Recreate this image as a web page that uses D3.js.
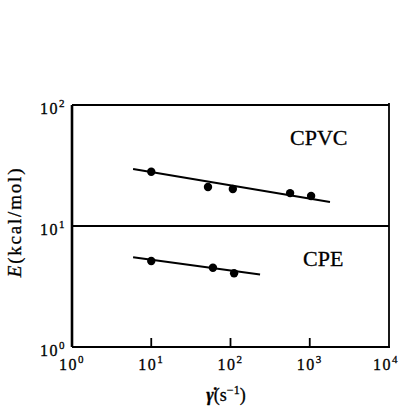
<!DOCTYPE html>
<html><head><meta charset="utf-8">
<script src="https://cdn.jsdelivr.net/npm/d3@7"></script>
<style>body{margin:0;background:#fff}svg{display:block}</style>
</head><body><svg id="c" width="400" height="408"></svg>
<script>
// ---- data ----
const xTicks = [1, 10, 100, 1000, 10000];
const xTickExp = ["0", "1", "2", "3", "4"];
const yTicks = [1, 10, 100];
const yTickExp = ["0", "1", "2"];
const cpvcRate = [10, 52, 107, 565, 1040];
const cpvcE = [28.1, 21.0, 20.2, 18.7, 17.7];
const cpeRate = [10, 60, 111];
const cpeE = [5.14, 4.52, 4.07];
const cpvcFitRate = [5.9, 1800];
const cpvcFitE = [29.6, 15.8];
const cpeFitRate = [5.9, 236];
const cpeFitE = [5.51, 3.97];
const seriesNames = ["CPVC", "CPE"];

// ---- chart ----
const svg = d3.select("#c");
const L = 72, R = 389, T = 105, B = 347;
const x = d3.scaleLog().domain([1, 10000]).range([L, R]);
const y = d3.scaleLog().domain([1, 100]).range([B, T]);
const font = "'Liberation Serif','DejaVu Serif',serif";

// frame
const g = svg.append("g").attr("stroke", "#000").attr("fill", "none");
g.append("line").attr("x1", L).attr("x2", R).attr("y1", y(100)).attr("y2", y(100)).attr("stroke-width", 1.8);
g.append("line").attr("x1", R).attr("x2", R).attr("y1", y(100) - 2).attr("y2", B).attr("stroke-width", 1.8);
g.append("line").attr("x1", L).attr("x2", R + 1).attr("y1", B).attr("y2", B).attr("stroke-width", 2);
g.append("line").attr("x1", L).attr("x2", R).attr("y1", y(10)).attr("y2", y(10)).attr("stroke-width", 1.8);
g.append("line").attr("x1", L).attr("x2", L).attr("y1", T).attr("y2", B).attr("stroke-width", 2.6);

// x inner ticks
g.selectAll(".xt").data(xTicks.slice(1, -1)).join("line")
  .attr("x1", d => x(d)).attr("x2", d => x(d))
  .attr("y1", B).attr("y2", B - 9).attr("stroke-width", 1.8);

// x tick labels
const xl = svg.append("g").attr("font-family", font).attr("fill", "#000")
  .attr("stroke", "#000").attr("stroke-width", 0.3);
xTicks.forEach((d, i) => {
  const t = xl.append("text").attr("x", Math.min(x(d), 386)).attr("y", 370)
    .attr("text-anchor", "middle").attr("font-size", 16).attr("letter-spacing", 1.5);
  t.append("tspan").text("10");
  t.append("tspan").attr("font-size", 11).attr("dy", -7).text(xTickExp[i]);
});

// y tick labels
yTicks.forEach((d, i) => {
  const t = xl.append("text").attr("x", L - 6).attr("y", y(d) + 9)
    .attr("text-anchor", "end").attr("font-size", 16).attr("letter-spacing", 1.5);
  t.append("tspan").text("10");
  t.append("tspan").attr("font-size", 11).attr("dy", -7).text(yTickExp[i]);
});

// fit lines
const line = d3.line().x(d => x(d[0])).y(d => y(d[1]));
svg.append("path").datum(cpvcFitRate.map((r, i) => [r, cpvcFitE[i]]))
  .attr("d", line).attr("stroke", "#000").attr("stroke-width", 2).attr("fill", "none");
svg.append("path").datum(cpeFitRate.map((r, i) => [r, cpeFitE[i]]))
  .attr("d", line).attr("stroke", "#000").attr("stroke-width", 2).attr("fill", "none");

// points
svg.append("g").selectAll("circle").data(cpvcRate.map((r, i) => [r, cpvcE[i]])).join("circle")
  .attr("cx", d => x(d[0])).attr("cy", d => y(d[1])).attr("r", 4.2).attr("fill", "#000");
svg.append("g").selectAll("circle").data(cpeRate.map((r, i) => [r, cpeE[i]])).join("circle")
  .attr("cx", d => x(d[0])).attr("cy", d => y(d[1])).attr("r", 4.2).attr("fill", "#000");

// series labels
xl.append("text").attr("x", 290).attr("y", 145).attr("font-size", 22).text(seriesNames[0]);
xl.append("text").attr("x", 303).attr("y", 266).attr("font-size", 22).text(seriesNames[1]);

// axis titles
const yt = xl.append("text").attr("transform", "translate(21,222) rotate(-90)")
  .attr("text-anchor", "middle").attr("font-size", 19).attr("letter-spacing", 1.8);
yt.append("tspan").attr("font-style", "italic").text("E");
yt.append("tspan").text("(kcal/mol)");

const xt = xl.append("text").attr("x", 226).attr("y", 401)
  .attr("text-anchor", "middle").attr("font-size", 18);
xt.append("tspan").attr("font-style", "italic").attr("font-weight", "bold").text("γ\u0307");
xt.append("tspan").text("(s");
xt.append("tspan").attr("font-size", 12).attr("dy", -7).text("−1");
xt.append("tspan").attr("dy", 7).text(")");
</script></body></html>
